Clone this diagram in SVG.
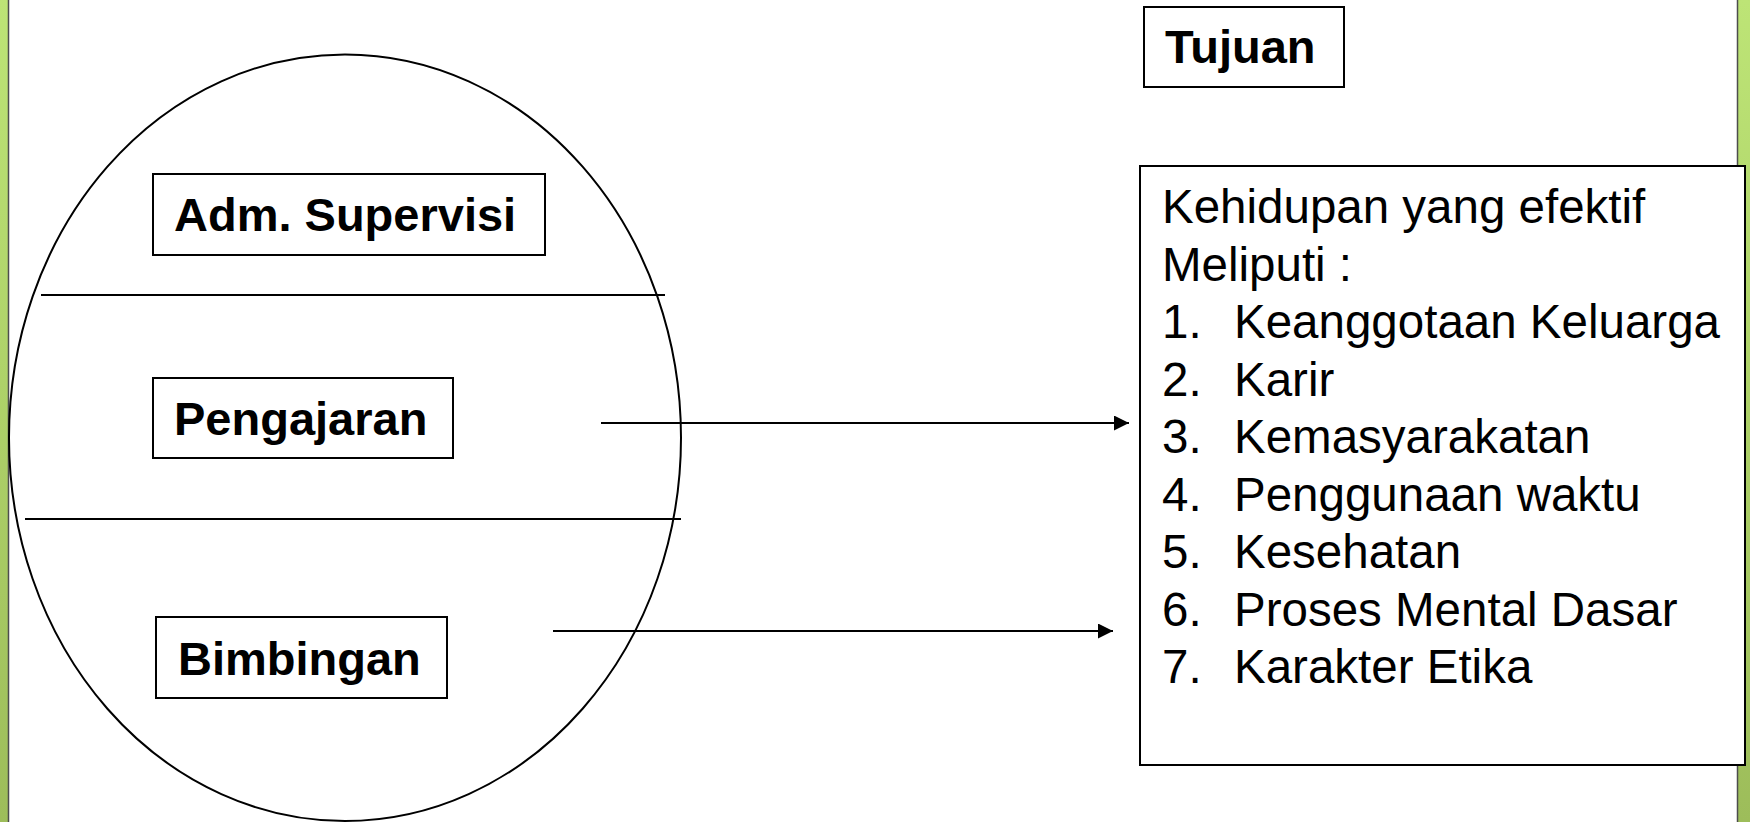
<svg xmlns="http://www.w3.org/2000/svg" width="1750" height="822" viewBox="0 0 1750 822">
<style>
.box{fill:#fff;stroke:#000;stroke-width:2}
.lbl{font-family:"Liberation Sans",Arial,sans-serif;font-weight:bold;font-size:47px;fill:#000}
.txt{font-family:"Liberation Sans",Arial,sans-serif;font-size:47.5px;fill:#000}
.ln{stroke:#000;stroke-width:2;fill:none}
</style>
<defs>
<linearGradient id="g" x1="0" y1="0" x2="0" y2="1">
<stop offset="0" stop-color="#bde476"/>
<stop offset="1" stop-color="#9dbd5a"/>
</linearGradient>
<marker id="ah" markerWidth="15" markerHeight="15" refX="15" refY="7.5" orient="auto" markerUnits="userSpaceOnUse">
<path d="M0,0 L15,7.5 L0,15 Z" fill="#000"/>
</marker>
</defs>
<rect width="1750" height="822" fill="#fff"/>
<g id="frame">
<rect x="0" y="0" width="8" height="822" fill="url(#g)"/>
<line x1="8.5" y1="0" x2="8.5" y2="822" stroke="#4d4d4d" stroke-width="1.5"/>
<rect x="1737" y="0" width="13" height="822" fill="url(#g)"/>
<line x1="1737.5" y1="0" x2="1737.5" y2="822" stroke="#4d4d4d" stroke-width="1.5"/>
</g>
<g id="ellipse">
<ellipse cx="345" cy="437.7" rx="336" ry="383.3" class="ln"/>
<line x1="41" y1="295" x2="665" y2="295" class="ln"/>
<line x1="25" y1="519" x2="681" y2="519" class="ln"/>
</g>
<g id="adm">
<rect x="153" y="174" width="392" height="81" class="box"/>
<text x="174" y="231" class="lbl">Adm. Supervisi</text>
</g>
<g id="pengajaran">
<rect x="153" y="378" width="300" height="80" class="box"/>
<text x="174" y="435" class="lbl">Pengajaran</text>
</g>
<g id="bimbingan">
<rect x="156" y="617" width="291" height="81" class="box"/>
<text x="178" y="675" class="lbl">Bimbingan</text>
</g>
<g id="tujuan">
<rect x="1144" y="7" width="200" height="80" class="box"/>
<text x="1165" y="63" class="lbl">Tujuan</text>
</g>
<g id="kehidupan">
<rect x="1140" y="166" width="605" height="599" class="box"/>
<text class="txt">
<tspan x="1162" y="223">Kehidupan yang efektif</tspan>
<tspan x="1162" y="280.5">Meliputi :</tspan>
</text>
<text class="txt">
<tspan x="1162" y="338">1.</tspan><tspan x="1234" y="338">Keanggotaan Keluarga</tspan>
<tspan x="1162" y="395.5">2.</tspan><tspan x="1234" y="395.5">Karir</tspan>
<tspan x="1162" y="453">3.</tspan><tspan x="1234" y="453">Kemasyarakatan</tspan>
<tspan x="1162" y="510.5">4.</tspan><tspan x="1234" y="510.5">Penggunaan waktu</tspan>
<tspan x="1162" y="568">5.</tspan><tspan x="1234" y="568">Kesehatan</tspan>
<tspan x="1162" y="625.5">6.</tspan><tspan x="1234" y="625.5">Proses Mental Dasar</tspan>
<tspan x="1162" y="683">7.</tspan><tspan x="1234" y="683">Karakter Etika</tspan>
</text>
</g>
<g id="connectors">
<line x1="601" y1="423" x2="1129" y2="423" class="ln" marker-end="url(#ah)"/>
<line x1="553" y1="631" x2="1113" y2="631" class="ln" marker-end="url(#ah)"/>
</g>
</svg>
